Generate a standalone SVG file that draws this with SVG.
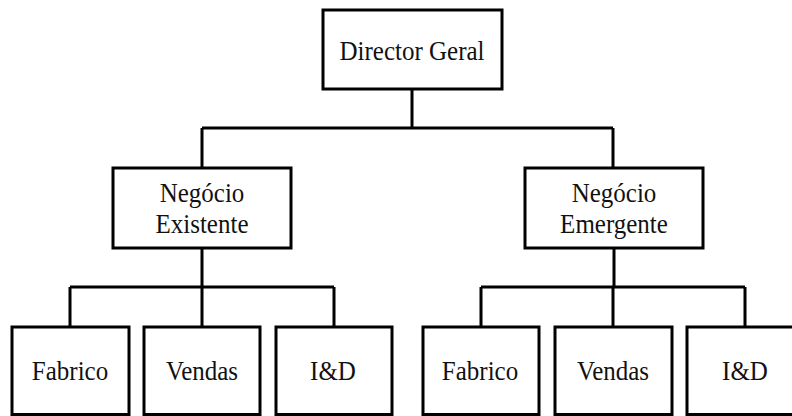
<svg xmlns="http://www.w3.org/2000/svg" width="792" height="416" viewBox="0 0 792 416">
  <style>
    .box { fill: #ffffff; stroke: #000000; stroke-width: 3; }
    .wire { fill: none; stroke: #000000; stroke-width: 3; }
    .label { font-family: "Liberation Serif", "Times New Roman", "DejaVu Serif", serif; font-size: 25px; fill: #111111; text-anchor: middle; }
  </style>
  <rect width="792" height="416" fill="#ffffff"/>

  <!-- connectors: trunk lines and the two tiers of bus bars -->
  <g id="connectors" class="wire">
    <path d="M412 89 V128 M202 128 H613 M202 128 V168 M613 128 V168"/>
    <path d="M202 248 V287 M70 287 H334 M70 287 V327 M202 287 V327 M334 287 V327"/>
    <path d="M614 248 V287 M481 287 H745 M481 287 V327 M613 287 V327 M745 287 V327"/>
  </g>

  <g id="director-geral">
    <rect class="box" x="323" y="10" width="179" height="79"/>
    <text class="label" transform="translate(412 60) scale(1 1.1)">Director Geral</text>
  </g>

  <g id="negocio-existente">
    <rect class="box" x="113" y="168" width="178" height="80"/>
    <text class="label" transform="translate(202 202) scale(1 1.1)">Negócio</text>
    <text class="label" transform="translate(202 233) scale(1 1.1)">Existente</text>
  </g>

  <g id="negocio-emergente">
    <rect class="box" x="525" y="168" width="178" height="80"/>
    <text class="label" transform="translate(614 202) scale(1 1.1)">Negócio</text>
    <text class="label" transform="translate(614 233) scale(1 1.1)">Emergente</text>
  </g>

  <g id="existente-fabrico">
    <rect class="box" x="12" y="327" width="117" height="87.5"/>
    <text class="label" transform="translate(70 380) scale(1 1.1)">Fabrico</text>
  </g>
  <g id="existente-vendas">
    <rect class="box" x="144" y="327" width="116" height="87.5"/>
    <text class="label" transform="translate(202 380) scale(1 1.1)">Vendas</text>
  </g>
  <g id="existente-id">
    <rect class="box" x="276" y="327" width="116" height="87.5"/>
    <text class="label" transform="translate(333 380) scale(1 1.1)">I&amp;D</text>
  </g>

  <g id="emergente-fabrico">
    <rect class="box" x="423" y="327" width="116" height="87.5"/>
    <text class="label" transform="translate(480 380) scale(1 1.1)">Fabrico</text>
  </g>
  <g id="emergente-vendas">
    <rect class="box" x="555" y="327" width="117" height="87.5"/>
    <text class="label" transform="translate(613 380) scale(1 1.1)">Vendas</text>
  </g>
  <g id="emergente-id">
    <rect class="box" x="687" y="327" width="117" height="87.5"/>
    <text class="label" transform="translate(745 380) scale(1 1.1)">I&amp;D</text>
  </g>
</svg>
